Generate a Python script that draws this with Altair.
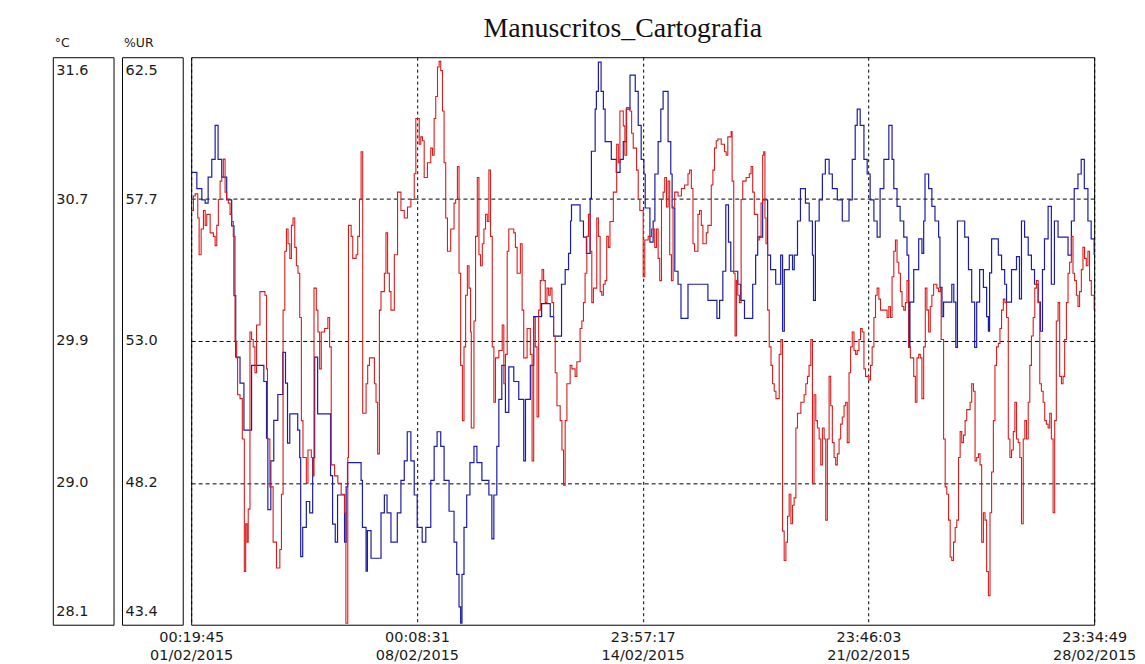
import altair as alt
import pandas as pd
from datetime import datetime, timezone

title_text = "Manuscritos_Cartografia"
temp_label = "°C"
rh_label = "%UR"
temp_ticks = [28.1, 28.975, 29.85, 30.725, 31.6]
rh_ticks = [43.4, 48.175, 52.95, 57.725, 62.5]
x_tick_times = ["2015-02-01 00:19:45", "2015-02-08 00:08:31", "2015-02-14 23:57:17",
                "2015-02-21 23:46:03", "2015-02-28 23:34:49"]

# (hours since first reading, temperature °C)
temp_readings = [
    (0.0, 30.89), (4.2, 30.79), (7.9, 30.72), (10.4, 30.70), (12.6, 30.86), (15.3, 30.97), (17.8, 31.18),
    (20.0, 30.97), (22.7, 30.86), (26.4, 30.72), (30.1, 30.56), (31.8, 30.13), (33.1, 29.75), (36.3, 29.59),
    (39.2, 29.30), (42.9, 29.30), (44.9, 29.70), (52.3, 29.70), (54.0, 29.60), (56.0, 29.25), (57.0, 28.81),
    (59.2, 29.11), (61.4, 29.36), (64.4, 29.52), (68.1, 29.78), (70.1, 29.59), (71.6, 29.22), (73.3, 29.40),
    (76.2, 29.40), (79.2, 29.30), (80.7, 29.13), (81.4, 28.52), (82.9, 28.70), (85.6, 28.86), (88.1, 28.79),
    (90.3, 29.13), (91.8, 29.75), (94.0, 29.40), (101.4, 29.40), (103.6, 29.02), (105.1, 28.72), (107.1, 28.61),
    (108.8, 28.90), (111.5, 28.90), (114.0, 28.61), (115.2, 28.95), (116.2, 29.10), (123.6, 29.10), (126.3, 28.99),
    (127.3, 28.70), (130.0, 28.43), (131.0, 28.68), (133.7, 28.51), (138.4, 28.51), (141.1, 28.79), (143.6, 28.90),
    (145.6, 28.79), (148.5, 28.61), (151.0, 28.61), (153.2, 28.79), (155.9, 28.99), (158.4, 29.11), (160.6, 29.29),
    (163.3, 29.11), (165.8, 28.90), (168.0, 28.70), (171.7, 28.61), (174.4, 28.70), (178.1, 28.99), (180.6, 29.20),
    (182.8, 29.29), (185.5, 29.20), (188.0, 28.99), (191.7, 28.80), (195.4, 28.61), (197.4, 28.41), (199.1, 28.21),
    (200.3, 28.11), (201.3, 28.41), (202.8, 28.70), (204.8, 28.90), (207.2, 29.10), (210.2, 29.20), (212.4, 29.10),
    (216.1, 28.99), (221.3, 28.90), (223.5, 28.63), (225.0, 28.90), (227.2, 29.20), (228.7, 29.49), (230.9, 29.70),
    (233.6, 29.41), (236.1, 29.69), (239.8, 29.60), (243.5, 29.49), (247.2, 29.11), (248.5, 29.49), (252.1, 29.70),
    (254.6, 30.00), (260.5, 30.08), (266.9, 30.00), (269.4, 29.88), (275.3, 30.20), (278.0, 30.29), (280.5, 30.39),
    (282.0, 30.59), (282.7, 30.69), (289.1, 30.59), (291.6, 30.49), (293.8, 30.39), (296.6, 30.73), (297.5, 31.02),
    (300.3, 31.28), (301.2, 31.39), (302.7, 31.57), (304.7, 31.39), (306.4, 31.28), (307.7, 31.08), (312.3, 30.97),
    (316.0, 30.89), (318.8, 30.97), (321.2, 31.08), (323.4, 31.28), (326.2, 31.49), (330.1, 31.39), (332.3, 31.18),
    (334.5, 30.97), (336.5, 30.88), (337.5, 30.67), (341.0, 30.46), (343.4, 30.59), (344.7, 30.88), (347.1, 31.08),
    (349.1, 31.28), (350.8, 31.39), (354.5, 31.08), (356.5, 30.88), (357.5, 30.67), (359.5, 30.28), (361.9, 30.20),
    (364.1, 29.99), (369.3, 30.20), (384.1, 30.10), (390.8, 29.99), (392.8, 30.10), (395.2, 30.28), (397.4, 30.69),
    (399.4, 30.46), (401.1, 30.28), (406.3, 30.20), (408.5, 30.10), (411.3, 29.99), (417.4, 30.20), (419.6, 30.38),
    (421.1, 30.49), (424.8, 30.72), (428.5, 30.38), (430.7, 30.29), (434.5, 30.20), (438.2, 30.38), (439.6, 29.91),
    (440.9, 30.29), (444.6, 30.38), (447.0, 30.29), (448.3, 30.38), (450.7, 30.59), (452.9, 30.79), (456.6, 30.70),
    (459.4, 30.59), (461.8, 30.38), (462.6, 30.10), (464.0, 30.59), (466.8, 30.72), (469.2, 30.88), (471.4, 30.97),
    (474.2, 30.88), (476.6, 30.79), (480.3, 30.72), (484.0, 30.59), (489.0, 30.72), (491.4, 30.97), (493.6, 31.18),
    (495.1, 31.28), (497.3, 31.18), (500.1, 30.97), (502.5, 30.88), (504.7, 30.72), (507.5, 30.59), (509.9, 30.49),
    (512.1, 30.79), (514.9, 30.97), (518.6, 31.18), (521.0, 30.97), (522.3, 30.79), (524.7, 30.68), (527.0, 30.59),
    (529.7, 30.49), (532.1, 30.38), (533.4, 29.81), (534.3, 30.09), (537.1, 30.29), (540.8, 30.48), (543.2, 30.39),
    (544.5, 30.59), (545.5, 30.88), (548.2, 30.79), (550.6, 30.68), (552.9, 30.59), (555.6, 30.49), (556.6, 30.18),
    (558.1, 30.00), (559.3, 30.09), (565.4, 30.20), (566.9, 30.09), (568.4, 29.81), (569.6, 30.59), (575.0, 30.49),
    (577.8, 30.29), (580.2, 30.09), (582.4, 29.81), (583.9, 30.09), (586.1, 30.29), (588.9, 30.18), (591.3, 30.00),
    (592.6, 29.91), (593.5, 30.27), (595.0, 30.48), (600.0, 30.38), (602.4, 30.29), (604.7, 30.20), (606.1, 30.09),
    (609.8, 30.29), (613.5, 30.37), (615.7, 30.11), (617.2, 30.59), (619.5, 30.49), (622.2, 30.38), (624.6, 30.29),
    (626.9, 30.20), (629.6, 30.09), (631.3, 29.91), (632.8, 30.29), (634.3, 30.48), (637.0, 30.68), (639.4, 30.20),
    (641.7, 30.59), (644.4, 30.49), (651.8, 30.38), (654.3, 30.59), (656.4, 30.79), (659.2, 30.88), (661.6, 30.97),
    (663.9, 30.79), (666.6, 30.59), (669.0, 30.48), (671.25, 30.38),
]

# (hours since first reading, relative humidity %)
rh_readings = [
    (0.0, 57.34), (1.7, 57.83), (3.0, 57.90), (4.9, 57.09), (5.9, 55.85), (7.4, 56.72), (9.1, 57.34), (10.4, 56.84),
    (11.6, 57.21), (14.1, 56.59), (16.5, 56.47), (17.8, 56.16), (19.0, 56.84), (20.2, 57.71), (21.5, 58.33),
    (22.7, 58.45), (23.9, 59.07), (25.2, 57.96), (26.4, 57.71), (27.6, 57.59), (28.9, 57.21), (30.1, 56.97),
    (31.3, 56.47), (32.6, 52.94), (33.8, 52.38), (34.5, 51.14), (36.3, 51.01), (38.0, 49.65), (39.5, 45.19),
    (40.5, 46.80), (41.5, 46.18), (42.4, 47.29), (43.7, 53.25), (44.9, 53.0), (46.1, 52.75), (47.4, 51.88),
    (48.6, 53.49), (51.1, 54.61), (54.8, 54.49), (56.0, 52.01), (56.7, 49.65), (58.5, 48.04), (60.9, 46.18),
    (63.4, 45.31), (65.9, 45.93), (67.1, 47.79), (68.3, 53.99), (69.6, 55.97), (70.8, 56.72), (72.0, 56.22),
    (73.3, 55.73), (74.5, 56.84), (75.7, 57.09), (77.0, 56.10), (78.2, 55.48), (79.4, 55.23), (80.7, 53.74),
    (81.9, 50.27), (83.1, 49.03), (85.6, 48.16), (86.8, 49.28), (89.3, 49.03), (90.5, 48.41), (91.3, 54.73),
    (93.0, 53.99), (94.2, 53.25), (95.5, 52.01), (96.7, 53.25), (99.2, 53.37), (101.6, 53.74), (102.9, 52.75),
    (104.1, 48.78), (106.6, 48.41), (109.0, 48.16), (111.5, 47.79), (114.0, 47.17), (115.0, 43.45), (116.4, 49.03),
    (116.9, 56.84), (118.9, 56.47), (120.1, 55.73), (122.6, 55.85), (123.8, 56.47), (125.1, 57.71), (126.3, 59.32),
    (127.5, 50.52), (130.0, 51.51), (131.2, 52.13), (132.5, 52.38), (134.9, 52.38), (136.2, 51.51), (137.4, 50.89),
    (138.6, 49.15), (139.9, 53.99), (141.1, 54.61), (143.6, 55.23), (144.8, 56.59), (146.0, 55.23), (147.3, 54.61),
    (148.5, 53.99), (151.0, 55.85), (153.4, 57.96), (155.9, 57.34), (158.4, 57.09), (160.8, 57.46), (163.3, 57.71),
    (165.8, 58.58), (167.0, 60.44), (168.2, 60.44), (169.5, 59.57), (170.7, 59.82), (171.9, 59.69), (173.2, 58.45),
    (175.6, 58.95), (178.1, 59.44), (179.4, 59.20), (180.6, 60.44), (181.8, 61.18), (183.1, 62.17), (184.3, 62.36),
    (185.5, 62.05), (186.8, 60.69), (188.0, 58.95), (189.2, 57.09), (190.5, 55.97), (192.9, 56.72), (195.4, 57.59),
    (196.6, 57.71), (197.9, 58.82), (199.1, 55.23), (200.3, 52.13), (201.6, 50.27), (202.8, 52.75), (204.0, 54.49),
    (205.3, 55.48), (206.5, 54.73), (207.7, 53.25), (208.2, 50.02), (210.2, 53.62), (211.4, 56.47), (212.7, 58.45),
    (213.9, 55.85), (215.1, 55.48), (216.4, 56.22), (217.6, 56.72), (218.8, 57.21), (220.1, 56.97), (221.3, 58.70),
    (222.5, 56.47), (223.8, 52.75), (225.0, 50.89), (226.2, 52.38), (228.7, 52.63), (231.2, 53.49), (232.4, 51.51),
    (233.6, 52.50), (234.9, 55.97), (236.1, 56.72), (239.8, 56.59), (241.0, 56.10), (242.3, 55.23), (244.7, 56.22),
    (246.0, 53.99), (247.2, 52.38), (248.4, 52.38), (249.7, 53.37), (252.1, 52.50), (253.4, 48.91), (254.6, 53.74),
    (255.8, 52.75), (257.1, 50.39), (258.3, 53.99), (259.5, 54.98), (260.8, 55.35), (262.0, 54.98), (263.2, 54.24),
    (264.5, 54.73), (265.7, 54.49), (266.9, 54.73), (268.2, 54.24), (269.4, 53.12), (270.6, 51.88), (271.9, 50.77),
    (274.3, 50.27), (275.6, 49.28), (276.8, 48.10), (278.0, 50.27), (279.3, 51.51), (281.7, 52.13), (283.0, 52.01),
    (285.4, 51.76), (286.7, 52.25), (289.1, 53.37), (290.4, 53.62), (291.6, 54.24), (292.8, 55.23), (294.1, 56.47),
    (295.3, 57.21), (296.5, 55.97), (297.8, 54.24), (299.0, 54.73), (301.5, 57.09), (302.7, 56.47), (304.0, 54.61),
    (305.2, 54.49), (306.4, 54.86), (307.7, 54.98), (308.9, 56.47), (310.1, 56.10), (311.3, 56.97), (313.8, 57.96),
    (316.3, 59.57), (317.5, 58.95), (318.7, 60.69), (321.2, 60.19), (322.4, 59.20), (323.7, 60.81), (326.1, 60.69),
    (327.4, 59.94), (328.6, 59.44), (331.1, 58.70), (332.3, 57.71), (333.5, 57.34), (336.0, 55.11), (337.2, 56.35),
    (339.7, 56.47), (342.2, 56.72), (344.6, 56.10), (345.9, 56.72), (347.1, 55.73), (348.3, 54.98), (349.6, 57.71),
    (350.8, 57.96), (352.0, 58.45), (353.3, 57.46), (354.5, 58.33), (355.7, 55.85), (357.0, 54.98), (358.2, 57.46),
    (359.4, 57.96), (361.9, 57.83), (364.4, 58.08), (366.8, 58.20), (369.3, 58.58), (370.5, 58.70), (371.8, 58.08),
    (373.0, 56.22), (374.2, 55.97), (376.7, 57.21), (377.9, 57.34), (379.2, 56.84), (380.4, 56.22), (382.9, 56.59),
    (384.1, 56.84), (386.6, 58.20), (387.8, 58.70), (389.0, 59.44), (390.3, 59.69), (391.5, 59.75), (394.0, 59.57),
    (396.4, 59.32), (397.7, 59.20), (398.9, 59.82), (401.4, 60.00), (402.1, 58.33), (403.3, 55.23), (404.3, 53.12),
    (405.3, 54.98), (406.3, 54.49), (407.5, 54.24), (408.8, 57.71), (410.0, 58.33), (412.5, 58.45), (414.9, 58.58),
    (416.2, 58.82), (417.4, 57.96), (418.6, 57.21), (421.1, 56.35), (422.3, 56.47), (423.6, 57.59), (424.8, 59.20),
    (425.6, 59.32), (426.5, 57.09), (427.3, 56.22), (428.5, 53.99), (429.7, 52.75), (431.0, 52.13), (432.2, 51.51),
    (433.4, 51.26), (434.7, 51.01), (437.1, 52.50), (438.4, 53.0), (439.6, 46.55), (440.8, 45.56), (442.1, 46.18),
    (443.3, 47.05), (444.5, 47.79), (445.8, 46.80), (447.0, 47.42), (448.2, 47.67), (449.5, 50.02), (450.7, 50.52),
    (453.2, 50.89), (455.6, 51.14), (456.9, 51.51), (458.1, 51.76), (459.3, 52.13), (460.6, 53.0), (461.8, 48.16),
    (463.0, 51.14), (464.3, 50.27), (465.5, 50.02), (466.8, 49.65), (468.0, 48.78), (469.2, 50.02), (470.5, 49.65),
    (471.7, 46.92), (472.9, 49.65), (474.2, 51.76), (475.4, 50.77), (476.6, 49.53), (477.9, 49.03), (479.1, 48.78),
    (480.3, 49.15), (481.6, 49.65), (482.8, 50.15), (484.0, 50.39), (485.3, 50.77), (486.5, 50.89), (487.7, 49.53),
    (489.0, 51.88), (490.2, 52.75), (491.4, 53.25), (492.7, 52.63), (493.9, 52.50), (495.1, 52.63), (496.4, 53.0),
    (497.6, 53.37), (498.8, 53.25), (500.1, 52.01), (501.3, 51.76), (503.8, 51.64), (505.0, 52.13), (506.2, 52.75),
    (507.5, 53.74), (508.7, 54.49), (509.9, 54.73), (511.2, 54.36), (512.4, 53.99), (514.9, 53.99), (517.3, 53.74),
    (518.6, 54.11), (519.8, 53.74), (521.0, 55.11), (522.3, 55.97), (523.5, 56.35), (524.7, 55.60), (526.0, 55.23),
    (527.2, 54.61), (528.4, 54.11), (529.7, 53.99), (530.9, 54.24), (532.1, 54.98), (533.4, 52.75), (534.6, 52.38),
    (535.8, 52.38), (537.1, 51.76), (538.3, 50.89), (539.5, 52.38), (540.8, 52.50), (542.0, 52.38), (543.2, 51.01),
    (544.5, 52.75), (545.7, 54.73), (546.9, 53.99), (548.2, 53.25), (549.4, 54.11), (550.6, 54.49), (551.9, 54.86),
    (554.3, 54.73), (555.6, 54.61), (556.8, 54.73), (557.5, 53.0), (559.3, 49.65), (560.5, 48.04), (561.7, 47.79),
    (563.0, 46.92), (564.2, 45.68), (565.4, 45.56), (566.7, 46.18), (567.9, 46.67), (569.1, 46.92), (570.4, 49.03),
    (571.6, 49.90), (572.8, 49.53), (574.1, 49.78), (575.3, 50.27), (576.5, 50.64), (579.0, 50.89), (580.2, 51.51),
    (581.5, 51.26), (582.7, 48.91), (583.9, 49.03), (585.2, 49.15), (586.4, 48.78), (587.6, 46.18), (588.9, 47.17),
    (590.1, 46.92), (591.3, 45.19), (592.6, 44.38), (593.8, 47.17), (595.0, 48.54), (596.3, 50.27), (597.5, 52.13),
    (598.7, 52.75), (600.0, 52.87), (601.2, 53.37), (602.4, 53.99), (603.7, 54.36), (604.9, 54.24), (606.1, 53.74),
    (607.4, 49.65), (608.6, 49.03), (609.8, 49.28), (611.1, 49.90), (612.3, 50.89), (613.5, 49.65), (614.8, 49.53),
    (616.0, 49.03), (617.2, 46.80), (618.5, 49.65), (619.7, 50.27), (620.9, 49.65), (622.2, 50.89), (623.4, 52.13),
    (624.6, 53.12), (625.9, 53.74), (627.1, 54.73), (628.3, 54.98), (629.6, 54.24), (630.8, 51.51), (632.0, 51.26),
    (633.3, 50.89), (634.5, 50.27), (635.7, 50.15), (637.0, 50.02), (638.2, 50.52), (639.4, 49.65), (640.7, 47.17),
    (641.9, 50.27), (643.1, 53.62), (644.4, 54.24), (645.6, 51.76), (646.9, 51.51), (648.1, 51.76), (649.3, 53.0),
    (650.6, 54.24), (651.8, 55.23), (653.0, 55.60), (654.3, 56.47), (655.5, 55.23), (656.7, 54.98), (658.0, 54.49),
    (659.2, 54.11), (660.4, 54.61), (661.7, 55.35), (662.9, 56.10), (664.1, 55.73), (665.4, 55.48), (666.6, 55.97),
    (667.8, 54.98), (669.1, 54.49), (671.25, 53.99),
]


def to_ms(s):
    return int(datetime.strptime(s, "%Y-%m-%d %H:%M:%S").replace(tzinfo=timezone.utc).timestamp() * 1000)


tick_ms = [to_ms(s) for s in x_tick_times]
t0 = tick_ms[0]
temp_df = pd.DataFrame({"t": [t0 + h * 3600000 for h, _ in temp_readings], "v": [v for _, v in temp_readings]})
rh_df = pd.DataFrame({"t": [t0 + h * 3600000 for h, _ in rh_readings], "v": [v for _, v in rh_readings]})

LABEL_FONT = "DejaVu Sans"
TEXT_COLOR = "#1a1a1a"

x_enc = alt.X(
    "t:Q",
    scale=alt.Scale(domain=[tick_ms[0], tick_ms[-1]], nice=False, zero=False),
    axis=alt.Axis(
        values=tick_ms,
        labelExpr="[utcFormat(datum.value, '%H:%M:%S'), utcFormat(datum.value, '%d/%m/%Y')]",
        title=None, grid=True, gridDash=[3, 3], gridColor="black", gridOpacity=1,
        ticks=False, domain=False, labelFont=LABEL_FONT, labelFontSize=14.5, labelColor=TEXT_COLOR,
        labelPadding=6, labelBaseline="top", labelLineHeight=18, labelOverlap=False,
        labelFlush=False, labelBound=False,
    ),
)

temp_line = alt.Chart(temp_df).mark_line(
    color="#1c1ca6", strokeWidth=1.2, interpolate="step-after", clip=True
).encode(
    x=x_enc,
    y=alt.Y("v:Q", scale=alt.Scale(domain=[temp_ticks[0], temp_ticks[-1]], nice=False, zero=False), axis=None),
)

rh_line = alt.Chart(rh_df).mark_line(
    color="#d81c1c", strokeWidth=1.1, interpolate="step-after", clip=True
).encode(
    x=x_enc,
    y=alt.Y(
        "v:Q",
        scale=alt.Scale(domain=[rh_ticks[0], rh_ticks[-1]], nice=False, zero=False),
        axis=alt.Axis(values=rh_ticks[1:4], grid=True, gridDash=[4, 3], gridColor="black", gridOpacity=1,
                      labels=False, ticks=False, domain=False, title=None),
    ),
)

main = alt.layer(temp_line, rh_line).resolve_scale(y="independent").properties(
    width=907, height=570,
    title=alt.Title(title_text, font="Liberation Serif", fontSize=28, fontWeight="normal",
                    color="#111111", anchor="middle", offset=14, dx=-20),
)


def value_box(ticks, label):
    df = pd.DataFrame({"v": ticks})
    return alt.Chart(
        df,
        title=alt.Title(label, anchor="start", font=LABEL_FONT, fontSize=12.5, fontWeight="normal",
                        color=TEXT_COLOR, offset=5, dx=2),
    ).mark_point(opacity=0).encode(
        y=alt.Y(
            "v:Q",
            scale=alt.Scale(domain=[ticks[0], ticks[-1]], nice=False, zero=False),
            axis=alt.Axis(values=ticks, format=".1f", orient="left", domain=False, ticks=False, grid=False,
                          labelAlign="left", labelPadding=-3, labelFlush=True, labelFlushOffset=-6,
                          labelFont=LABEL_FONT, labelFontSize=14.5, labelColor=TEXT_COLOR, title=None),
        )
    ).properties(width=61, height=570)


chart = alt.hconcat(
    value_box(temp_ticks, temp_label),
    value_box(rh_ticks, rh_label),
    main,
    spacing=8.5,
    bounds="flush",
).properties(
    padding={"left": 44, "top": 5, "right": 0, "bottom": 0},
    background="white",
).configure_view(stroke="black", strokeWidth=1)

chart.save("out.html", embed_options={"renderer": "svg", "actions": False})
